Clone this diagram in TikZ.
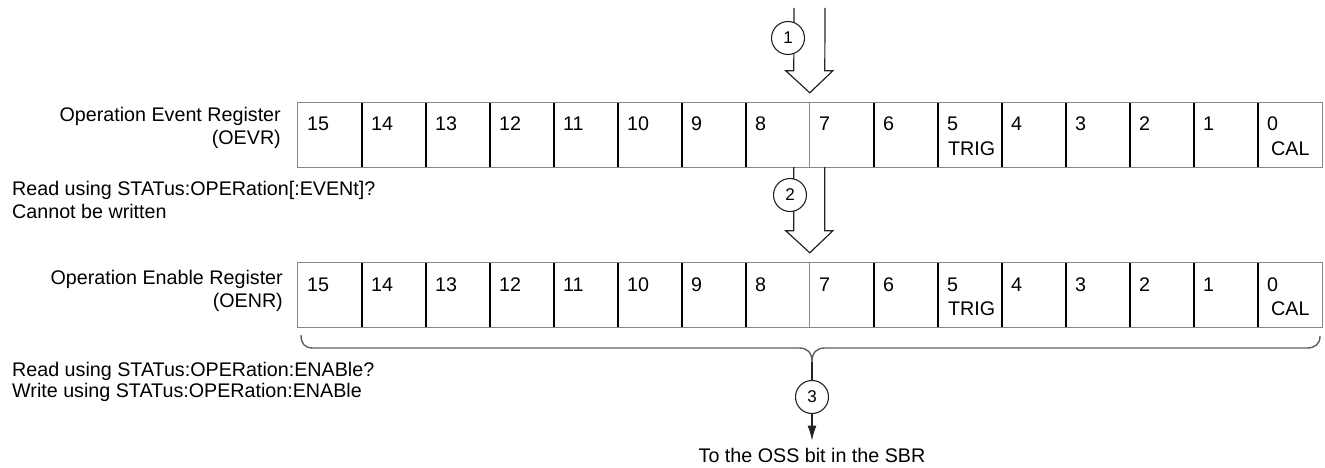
\documentclass[tikz,border=0pt]{standalone}
\usepackage{fontspec}
\setmainfont{Liberation Sans}
\usetikzlibrary{arrows.meta, calc}
\definecolor{frameGray}{RGB}{135,135,135}
\definecolor{braceGray}{RGB}{95,95,95}
\definecolor{arrowInk}{RGB}{35,35,35}
\tikzset{
  every node/.style={font=\fontsize{19.7}{23}\selectfont},
  CELL/.style={minimum width=64pt, minimum height=64pt, inner sep=0pt},
  BIT/.style={anchor=base west, inner sep=0pt},
  LBL/.style={anchor=base east, inner sep=0pt},
  NOTE/.style={anchor=base west, inner sep=0pt},
  NUM/.style={circle, draw=arrowInk, line width=1.1pt, fill=white, minimum size=33pt, inner sep=0pt, font=\fontsize{17}{17}\selectfont},
  FRAME/.style={frameGray, line width=1.2pt},
  DIV/.style={black, line width=1.6pt},
  HOLLOW/.style={arrowInk, line width=1.2pt, line join=miter},
  BRACE/.style={braceGray, line width=1.4pt},
  AR/.style={-{Latex[length=15pt, width=9pt]}, arrowInk, line width=1.2pt, shorten >=7pt},
}
% one 16-bit register: #1 = name prefix, #2 = top y
\newcommand{\register}[2]{%
  \foreach \b [count=\i from 0] in {15,14,...,0} {
    \node[CELL] (#1\b) at (330+64*\i,#2+32) {};
    \node[BIT] (#1t\b) at (307+64*\i,#2+28) {\b};
  }
  \draw[FRAME] (#115.north west) rectangle (#10.south east);
  \foreach \b in {14,13,12,11,10,9,8,6,5,4,3,2,1,0}
    \draw[DIV] (#1\b.north west) -- (#1\b.south west);
  \draw[FRAME] (#17.north west) -- (#17.south west);
}
% open block arrow from #1 down to tip #2
\newcommand{\hollowdown}[2]{%
  \draw[HOLLOW] ($(#1)+(-16,0)$) -- ($(#2)+(-16,-22)$) -- ($(#2)+(-24,-22)$)
    -- (#2) -- ($(#2)+(23,-22)$) -- ($(#2)+(15,-22)$) -- ($(#1)+(15,0)$);}

\begin{document}
\begin{tikzpicture}[x=1pt, y=1pt, yscale=-1]
\useasboundingbox (0,0) rectangle (1325,468);

%% Operation Event Register
\register{ev}{103}
\node[BIT] (evtrig) at (948,155) {TRIG};
\node[BIT] (evcal) at (1271,155) {CAL};
\node[LBL] (evname) at (281,122) {Operation Event Register};
\node[LBL] (evabbr) at (281,145) {(OEVR)};
\node[NOTE] (evread) at (12,195) {Read using STATus:OPERation[:EVENt]?};
\node[NOTE] (evwrite) at (12,218) {Cannot be written};

%% Operation Enable Register
\register{en}{263}
\node[BIT] (entrig) at (948,315) {TRIG};
\node[BIT] (encal) at (1271,315) {CAL};
\node[LBL] (enname) at (283,284) {Operation Enable Register};
\node[LBL] (enabbr) at (283,307) {(OENR)};
\node[NOTE] (enread) at (12,376) {Read using STATus:OPERation:ENABle?};
\node[NOTE] (enwrite) at (12,397) {Write using STATus:OPERation:ENABle};

%% block arrows
\coordinate (in1) at (810,8);
\coordinate (tip1) at ($(ev7.north west)+(0,-10)$);
\coordinate (tip2) at ($(en7.north west)+(0,-10)$);
\hollowdown{in1}{tip1}
\hollowdown{ev7.south west}{tip2}

%% brace and output
\draw[BRACE] (301,335) .. controls (301,344) and (305,348) .. (313,348) -- (799,348)
  .. controls (807,348) and (812,352) .. (812,362)
  .. controls (812,352) and (817,348) .. (825,348) -- (1307,348)
  .. controls (1315,348) and (1320,344) .. (1320,336);
\coordinate (brtip) at (812,362);
\node[anchor=base, inner sep=0pt] (dest) at (812,462) {To the OSS bit in the SBR};
\draw[AR] (brtip) -- (dest.north);

%% step numbers
\node[NUM] (n1) at (788,38) {1};
\node[NUM] (n2) at (790,195) {2};
\node[NUM] (n3) at (812,397) {3};

\end{tikzpicture}
\end{document}
